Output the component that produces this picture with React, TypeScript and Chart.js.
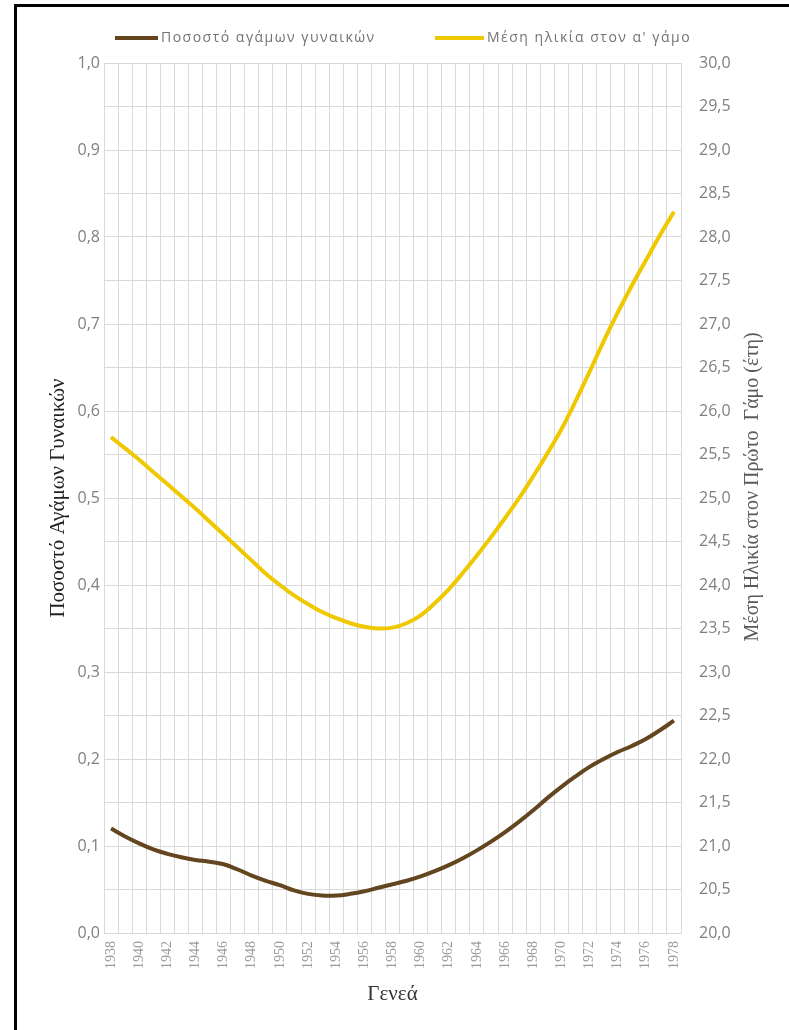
import React, { useEffect, useRef } from 'react';
import { Chart, registerables } from 'chart.js';

Chart.register(...registerables);

const years: string[] = [
  '1938', '1939', '1940', '1941', '1942', '1943', '1944', '1945', '1946', '1947',
  '1948', '1949', '1950', '1951', '1952', '1953', '1954', '1955', '1956', '1957',
  '1958', '1959', '1960', '1961', '1962', '1963', '1964', '1965', '1966', '1967',
  '1968', '1969', '1970', '1971', '1972', '1973', '1974', '1975', '1976', '1977',
  '1978',
];

const unmarriedShare: number[] = [
  0.120, 0.111, 0.103, 0.096, 0.091, 0.087, 0.084, 0.082, 0.079, 0.073,
  0.066, 0.060, 0.055, 0.049, 0.045, 0.043, 0.043, 0.045, 0.048, 0.052,
  0.056, 0.060, 0.065, 0.071, 0.078, 0.086, 0.095, 0.105, 0.116, 0.128,
  0.141, 0.155, 0.168, 0.180, 0.191, 0.200, 0.208, 0.215, 0.223, 0.233,
  0.244,
];

const meanAgeFirstMarriage: number[] = [
  25.70, 25.57, 25.44, 25.30, 25.16, 25.02, 24.88, 24.73, 24.58, 24.43,
  24.28, 24.13, 24.00, 23.88, 23.78, 23.69, 23.62, 23.56, 23.52, 23.50,
  23.51, 23.56, 23.65, 23.79, 23.95, 24.14, 24.34, 24.55, 24.77, 25.00,
  25.25, 25.51, 25.79, 26.11, 26.45, 26.80, 27.13, 27.44, 27.73, 28.02,
  28.29,
];

const seriesNames: string[] = ['Ποσοστό αγάμων γυναικών', "Μέση ηλικία στον α' γάμο"];
const seriesColors: string[] = ['#63451f', '#f0c800'];
const xTitle = 'Γενεά';
const leftTitle = 'Ποσοστό Αγάμων Γυναικών';
const rightTitle = 'Μέση Ηλικία στον Πρώτο  Γάμο (έτη)';

const GRID = '#d9d9d9';
const TICK_COLOR = '#808080';
const fmt = (v: number) => Number(v).toFixed(1).replace('.', ',');

const decorPlugin = {
  id: 'decor',
  afterDraw(chart: any) {
    const ctx = chart.ctx as CanvasRenderingContext2D;
    ctx.save();
    // frame
    ctx.strokeStyle = '#000';
    ctx.lineWidth = 3;
    ctx.beginPath();
    ctx.moveTo(15.5, 1040);
    ctx.lineTo(15.5, 5.5);
    ctx.lineTo(800, 5.5);
    ctx.stroke();

    // legend
    const lineStarts = [115, 435];
    const lineEnds = [158, 484];
    const ly = 38;
    ctx.font = '14px "Open Sans"';
    (ctx as any).letterSpacing = '1.5px';
    ctx.textBaseline = 'middle';
    ctx.textAlign = 'left';
    chart.data.datasets.forEach((ds: any, i: number) => {
      ctx.strokeStyle = ds.borderColor;
      ctx.lineWidth = 4;
      ctx.beginPath();
      ctx.moveTo(lineStarts[i], ly);
      ctx.lineTo(lineEnds[i], ly);
      ctx.stroke();
      ctx.fillStyle = '#737373';
      ctx.fillText(ds.label, lineEnds[i] + 3, ly);
    });
    (ctx as any).letterSpacing = '0px';

    // right axis title (reads bottom to top)
    ctx.translate(753, 487);
    ctx.rotate(-Math.PI / 2);
    ctx.textAlign = 'center';
    ctx.fillStyle = '#5a5a5a';
    ctx.font = '20px "Liberation Serif"';
    ctx.fillText(rightTitle, 0, 0);
    ctx.restore();
  },
};

export default function App() {
  const canvasRef = useRef<HTMLCanvasElement | null>(null);

  useEffect(() => {
    if (!canvasRef.current) return;
    const chart = new Chart(canvasRef.current, {
      type: 'line',
      data: {
        labels: years,
        datasets: [
          {
            label: seriesNames[0],
            data: unmarriedShare,
            borderColor: seriesColors[0],
            backgroundColor: seriesColors[0],
            borderWidth: 4,
            pointRadius: 0,
            tension: 0.4,
            yAxisID: 'y',
          },
          {
            label: seriesNames[1],
            data: meanAgeFirstMarriage,
            borderColor: seriesColors[1],
            backgroundColor: seriesColors[1],
            borderWidth: 4,
            pointRadius: 0,
            tension: 0.4,
            yAxisID: 'y1',
          },
        ],
      },
      options: {
        animation: false,
        responsive: true,
        maintainAspectRatio: false,
        layout: { padding: { top: 63, left: 0, right: 0, bottom: 0 } },
        plugins: {
          legend: { display: false },
          tooltip: { enabled: false },
        },
        scales: {
          x: {
            type: 'category',
            offset: true,
            grid: { offset: true, color: GRID, drawTicks: false },
            border: { color: GRID },
            ticks: {
              autoSkip: false,
              minRotation: 90,
              maxRotation: 90,
              padding: 8,
              color: '#9a9a9a',
              font: { family: 'Liberation Serif', size: 14 },
              callback: function (this: any, v: any, i: number) {
                return i % 2 === 0 ? this.getLabelForValue(v) : '';
              },
            },
            title: {
              display: true,
              text: xTitle,
              color: '#333',
              font: { family: 'Liberation Serif', size: 21 },
              padding: { top: 0, bottom: 23 },
            },
            afterFit: (s: any) => { s.height = 97; },
          },
          y: {
            position: 'left',
            min: 0,
            max: 1,
            grid: { display: false, drawTicks: false },
            border: { color: GRID },
            ticks: {
              stepSize: 0.1,
              padding: 4,
              color: TICK_COLOR,
              font: { family: 'Open Sans', size: 16 },
              callback: (v: any) => fmt(v),
            },
            title: {
              display: true,
              text: leftTitle,
              color: '#222',
              font: { family: 'Liberation Serif', size: 21 },
              padding: { top: 46, bottom: 0 },
            },
            afterFit: (s: any) => { s.width = 104; },
          },
          y1: {
            position: 'right',
            min: 20,
            max: 30,
            grid: { color: GRID, drawTicks: false },
            border: { color: GRID },
            ticks: {
              stepSize: 0.5,
              padding: 18,
              color: TICK_COLOR,
              font: { family: 'Open Sans', size: 16 },
              callback: (v: any) => fmt(v),
            },
            afterFit: (s: any) => { s.width = 108; },
          },
        },
      },
      plugins: [decorPlugin],
    } as any);
    return () => chart.destroy();
  }, []);

  return (
    <div style={{ position: 'absolute', left: 0, top: 0, width: 789, height: 1030, background: '#fff' }}>
      <canvas ref={canvasRef} />
    </div>
  );
}
